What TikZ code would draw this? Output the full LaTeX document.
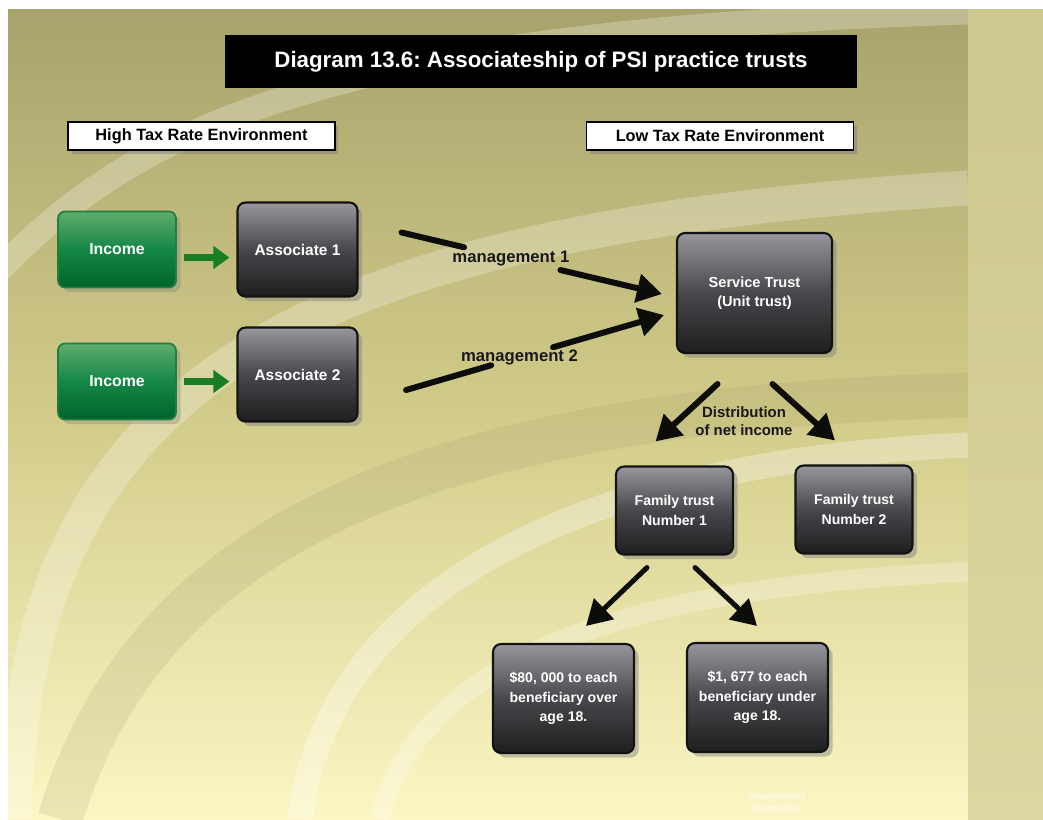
\documentclass[tikz,border=0pt]{standalone}
\usepackage{fontspec}
\setmainfont{Liberation Sans}
\usepackage{tikz}
\usetikzlibrary{positioning, arrows.meta, shadows, calc}
\definecolor{OliveTop}{RGB}{168,163,108}
\definecolor{OliveMid}{RGB}{210,204,138}
\definecolor{OliveLow}{RGB}{251,246,196}
\definecolor{StripTop}{RGB}{205,200,142}
\definecolor{StripLow}{RGB}{220,214,160}
\definecolor{BandDark}{RGB}{140,135,88}
\definecolor{BoxTop}{RGB}{150,150,156}
\definecolor{BoxMid}{RGB}{72,72,76}
\definecolor{BoxLow}{RGB}{30,30,32}
\definecolor{BoxEdge}{RGB}{18,18,18}
\definecolor{GreenTop}{RGB}{95,172,108}
\definecolor{GreenMid}{RGB}{20,135,70}
\definecolor{GreenLow}{RGB}{0,100,42}
\definecolor{GreenEdge}{RGB}{35,125,65}
\definecolor{GreenArrow}{RGB}{25,125,35}
\definecolor{ArrowColor}{RGB}{12,12,10}
\frenchspacing
\tikzstyle{band} = [white, opacity=0.25]
\tikzstyle{darkbox} = [rectangle, rounded corners=0.16cm, draw=BoxEdge, line width=1.2pt, top color=BoxTop, bottom color=BoxLow, middle color=BoxMid, text=white, align=center, font=\bfseries\fontsize{8}{11}\selectfont, drop shadow={opacity=0.45}]
\tikzstyle{greenbox} = [rectangle, rounded corners=0.14cm, draw=GreenEdge, line width=1pt, top color=GreenTop, bottom color=GreenLow, middle color=GreenMid, text=white, font=\bfseries\fontsize{9}{11}\selectfont, drop shadow={opacity=0.35}]
\tikzstyle{envlabel} = [rectangle, draw=black, line width=0.8pt, fill=white, minimum width=5.34cm, minimum height=0.56cm, font=\bfseries\fontsize{9.3}{11}\selectfont, drop shadow={opacity=0.5, shadow xshift=2pt, shadow yshift=-2pt}]
\tikzstyle{flowlabel} = [text=black!90, font=\bfseries\fontsize{9.5}{11}\selectfont]
\tikzstyle{fatline} = [line width=0.12cm, ArrowColor, line cap=round]
\tikzstyle{fatarrow} = [fatline, -{Triangle[length=0.5cm, width=0.56cm]}]
\tikzstyle{greenarrow} = [line width=0.14cm, GreenArrow, -{Triangle[length=0.32cm, width=0.44cm]}]

\begin{document}
\begin{tikzpicture}[x=0.02cm, y=-0.02cm]
    % background panel
    \fill[white] (0,0) rectangle (1043,819);
    \shade[top color=OliveTop, bottom color=OliveLow, middle color=OliveMid] (8,9) rectangle (968,819);
    \shade[top color=StripTop, bottom color=StripLow] (968,9) rectangle (1043,819);
    \useasboundingbox (0,0) rectangle (1043,819);

    % swoosh bands
    \begin{scope}
        \clip (8,9) rectangle (968,819);
        \draw[band, line width=0.5cm] (0,270) .. controls (150,110) and (380,30) .. (968,12);
        \draw[band, line width=0.7cm] (15,819) .. controls (20,380) and (300,230) .. (968,188);
        \draw[BandDark, opacity=0.14, line width=0.9cm] (60,819) .. controls (150,520) and (450,410) .. (968,395);
        \draw[band, line width=0.5cm, opacity=0.3] (300,819) .. controls (330,580) and (600,460) .. (968,445);
        \draw[band, line width=0.4cm] (380,819) .. controls (420,650) and (650,585) .. (968,572);
    \end{scope}

    % title and environments
    \node[fill=black, minimum width=12.64cm, minimum height=1.06cm, text=white, font=\bfseries\fontsize{12.7}{15}\selectfont] (title) at (541,61.5) {Diagram 13.6: Associateship of PSI practice trusts};
    \node[envlabel] (high) at (201.5,136) {High Tax Rate Environment};
    \node[envlabel] (low) at (720,136) {Low Tax Rate Environment};

    % income and associates
    \node[greenbox, minimum width=2.36cm, minimum height=1.52cm] (inc1) at (117,249.5) {Income};
    \node[greenbox, minimum width=2.36cm, minimum height=1.52cm] (inc2) at (117,381.5) {Income};
    \node[darkbox, minimum width=2.4cm, minimum height=1.88cm, font=\bfseries\fontsize{8.8}{11}\selectfont] (asc1) at (297.5,249.5) {Associate 1};
    \node[darkbox, minimum width=2.4cm, minimum height=1.88cm, font=\bfseries\fontsize{8.8}{11}\selectfont] (asc2) at (297.5,374.5) {Associate 2};

    % trusts
    \node[darkbox, minimum width=3.1cm, minimum height=2.4cm, font=\bfseries\fontsize{8.3}{11}\selectfont] (st) at (754.5,293) {Service Trust\\(Unit trust)};
    \node[darkbox, minimum width=2.34cm, minimum height=1.76cm] (ft1) at (674.5,510.5) {Family trust\\Number 1};
    \node[darkbox, minimum width=2.34cm, minimum height=1.76cm] (ft2) at (854,509.5) {Family trust\\Number 2};
    \node[darkbox, minimum width=2.82cm, minimum height=2.18cm] (ben1) at (563.5,698.5) {\$80, 000 to each\\beneficiary over\\age 18.};
    \node[darkbox, minimum width=2.82cm, minimum height=2.18cm] (ben2) at (757.5,697.5) {\$1, 677 to each\\beneficiary under\\age 18.};

    % income arrows
    \coordinate (g1) at ($(inc1.east)+(7,8)$);
    \draw[greenarrow, shorten >=0.14cm] (g1) -- (g1 -| asc1.west);
    \coordinate (g2) at ($(inc2.east)+(7,0)$);
    \draw[greenarrow, shorten >=0.14cm] (g2) -- (g2 -| asc2.west);

    % management arrows
    \coordinate (m1s) at ($(asc1.east)+(43,-17)$);
    \coordinate (m1e) at ($(st.west)+(-14,1)$);
    \draw[fatline] (m1s) -- ($(m1s)!0.24!(m1e)$);
    \draw[fatarrow] ($(m1s)!0.61!(m1e)$) -- (m1e);
    \node[flowlabel] (mg1) at ($(m1s)!0.42!(m1e)$) {management 1};
    \coordinate (m2s) at ($(asc2.east)+(47.5,15.5)$);
    \coordinate (m2e) at ($(st.west)+(-12,22)$);
    \draw[fatline] (m2s) -- ($(m2s)!0.33!(m2e)$);
    \draw[fatarrow] ($(m2s)!0.57!(m2e)$) -- (m2e);
    \node[flowlabel] (mg2) at ($(m2s)!0.44!(m2e)$) {management 2};

    % distribution arrows
    \coordinate (d1s) at ($(st.south)+(-37,30)$);
    \coordinate (d1e) at ($(ft1.north)+(-19,-24)$);
    \coordinate (d2s) at ($(st.south)+(18,30)$);
    \coordinate (d2e) at ($(ft2.north)+(-19,-24)$);
    \draw[fatarrow] (d1s) -- (d1e);
    \draw[fatarrow] (d2s) -- (d2e);
    \node[text=black!90, align=center, font=\bfseries\fontsize{8.5}{10.2}\selectfont] (dist) at (744,421) {Distribution\\of net income};

    % beneficiary arrows
    \coordinate (b1s) at ($(ft1.south)+(-27.5,12)$);
    \coordinate (b1e) at ($(ben1.north)+(22.5,-17)$);
    \coordinate (b2s) at ($(ft1.south)+(20.5,12)$);
    \coordinate (b2e) at ($(ben2.north)+(-0.5,-16)$);
    \draw[fatarrow, line width=0.1cm] (b1s) -- (b1e);
    \draw[fatarrow, line width=0.1cm] (b2s) -- (b2e);

    % watermark
    \node[text=white, opacity=0.6, align=center, font=\bfseries\fontsize{6}{7}\selectfont] (wm) at (777,803) {Investment\\Company};
\end{tikzpicture}
\end{document}
